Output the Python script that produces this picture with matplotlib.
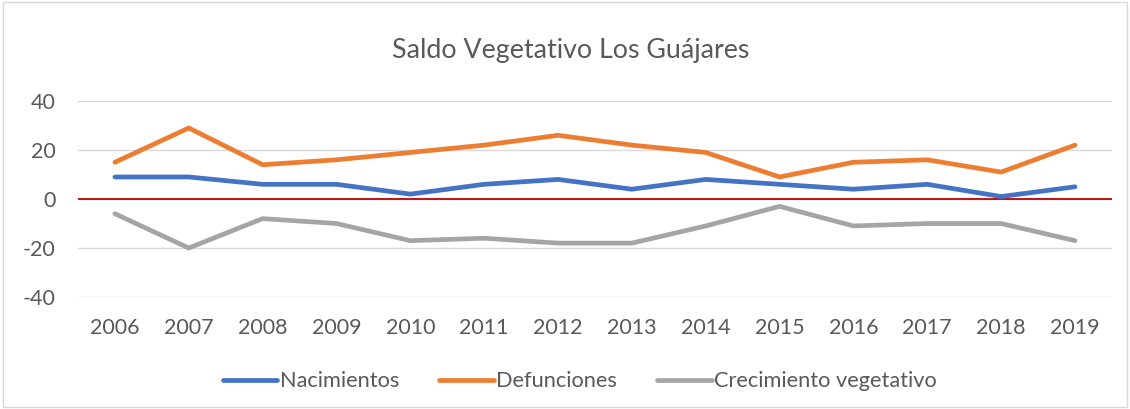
import matplotlib
matplotlib.use("Agg")
import matplotlib.pyplot as plt
from matplotlib.patches import Rectangle

# datos
anios = ["2006", "2007", "2008", "2009", "2010", "2011", "2012",
         "2013", "2014", "2015", "2016", "2017", "2018", "2019"]
nacimientos = [9, 9, 6, 6, 2, 6, 8, 4, 8, 6, 4, 6, 1, 5]
defunciones = [15, 29, 14, 16, 19, 22, 26, 22, 19, 9, 15, 16, 11, 22]
crecimiento = [-6, -20, -8, -10, -17, -16, -18, -18, -11, -3, -11, -10, -10, -17]

plt.rcParams['font.family'] = ['Lato', 'DejaVu Sans']
plt.rcParams['axes.unicode_minus'] = False

fig = plt.figure(figsize=(11.3, 4.09), dpi=100)
ax = fig.add_axes([0.069, 0.2738, 0.915, 0.4792])

# borde del grafico
fig.patches.append(Rectangle((0.003, 0.005), 0.994, 0.99, transform=fig.transFigure,
                             fill=False, edgecolor='#D9D9D9', linewidth=1))

x = list(range(len(anios)))
ax.plot(x, nacimientos, color='#4472C4', linewidth=3.4, label='Nacimientos',
        solid_capstyle='round', solid_joinstyle='round')
ax.plot(x, defunciones, color='#ED7D31', linewidth=3.4, label='Defunciones',
        solid_capstyle='round', solid_joinstyle='round')
ax.plot(x, crecimiento, color='#A5A5A5', linewidth=3.4, label='Crecimiento vegetativo',
        solid_capstyle='round', solid_joinstyle='round')

ax.axhline(0, color='#C00000', linewidth=1.3, zorder=1)

ax.set_xlim(-0.5, len(anios) - 0.5)
ax.set_ylim(-40, 40)
ax.set_yticks([-40, -20, 0, 20, 40])
ax.set_xticks(x)
ax.set_xticklabels(anios)
ax.yaxis.grid(True, color='#D9D9D9', linewidth=1)
ax.set_axisbelow(True)
for s in ax.spines.values():
    s.set_visible(False)
ax.tick_params(axis='both', length=0, labelsize=15.5, colors='#595959')
ax.tick_params(axis='x', pad=15)
ax.tick_params(axis='y', pad=16)

fig.text(0.505, 0.877, 'Saldo Vegetativo Los Guájares', ha='center', va='center',
         fontsize=19.3, color='#595959')

leg = fig.legend(loc='center', bbox_to_anchor=(0.513, 0.068), ncol=3, frameon=False,
                 fontsize=15.7, handlelength=2.5, handletextpad=0.1, columnspacing=1.85)
for t in leg.get_texts():
    t.set_color('#595959')

fig.savefig('out.png', dpi=100)
